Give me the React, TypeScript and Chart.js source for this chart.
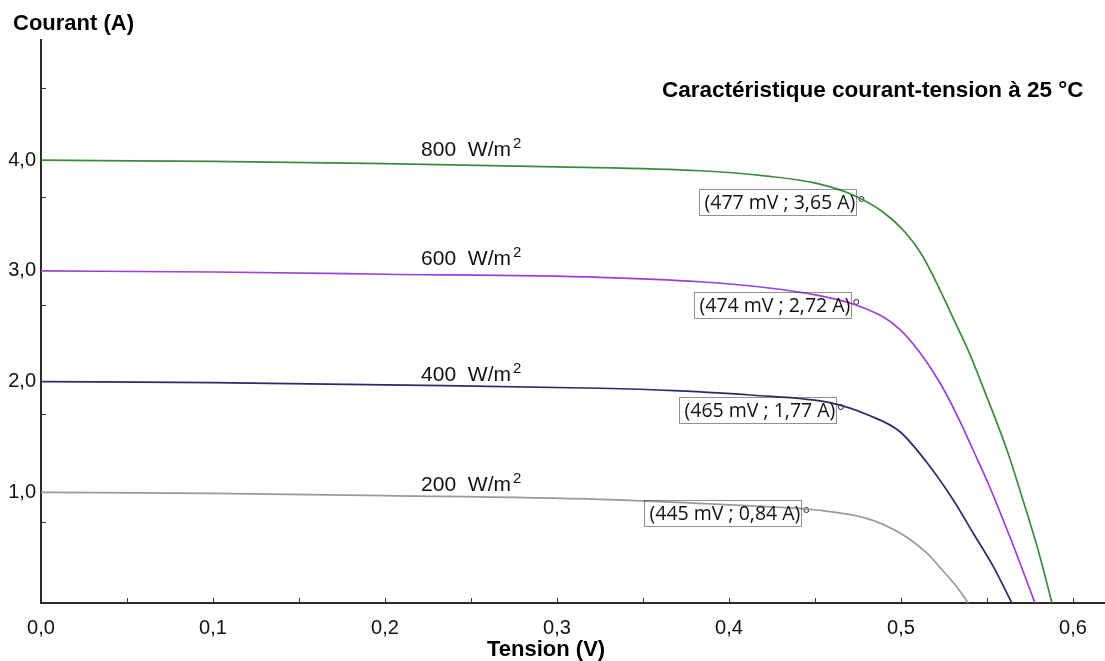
import React, { useEffect, useRef } from 'react';
import { Chart, registerables } from 'chart.js';

Chart.register(...registerables);

// ---- Data ----
const voltage800 = [0, 0.1, 0.2, 0.3, 0.383, 0.422, 0.451, 0.4721, 0.4895, 0.5023, 0.5122, 0.5227, 0.5314, 0.539, 0.5506, 0.5616, 0.5709, 0.5797, 0.5878];
const current800 = [4.0, 3.99, 3.97, 3.94, 3.905, 3.857, 3.791, 3.686, 3.532, 3.351, 3.144, 2.827, 2.538, 2.285, 1.834, 1.382, 0.93, 0.479, 0];

const voltage600 = [0, 0.1, 0.2, 0.325, 0.383, 0.422, 0.451, 0.4703, 0.4895, 0.4994, 0.5099, 0.5227, 0.5331, 0.5419, 0.5506, 0.5587, 0.5663, 0.5779];
const current600 = [3.0, 2.99, 2.97, 2.942, 2.902, 2.848, 2.782, 2.71, 2.585, 2.47, 2.285, 1.987, 1.68, 1.382, 1.084, 0.777, 0.479, 0];

const voltage400 = [0, 0.1, 0.2, 0.325, 0.368, 0.4122, 0.4605, 0.4801, 0.4994, 0.5169, 0.5304, 0.542, 0.5537, 0.5644];
const current400 = [2.0, 1.99, 1.97, 1.94, 1.918, 1.879, 1.804, 1.703, 1.547, 1.231, 0.93, 0.63, 0.328, 0];

const voltage200 = [0, 0.1, 0.2, 0.325, 0.383, 0.4219, 0.451, 0.4801, 0.4994, 0.5149, 0.5227, 0.5324, 0.5391];
const current200 = [1.0, 0.99, 0.97, 0.937, 0.9, 0.87, 0.84, 0.765, 0.632, 0.452, 0.32, 0.147, 0];

const irradianceLabels = ['800', '600', '400', '200'];
const labelVoltage = 0.221;
const labelCurrents = [4.04, 3.05, 2.01, 1.01];

const markerVoltages = [0.477, 0.474, 0.465, 0.445];
const markerCurrents = [3.65, 2.72, 1.77, 0.84];

const xMinorTicks = [0.05, 0.1, 0.15, 0.2, 0.25, 0.3, 0.35, 0.4, 0.45, 0.5, 0.55, 0.6];
const yMinorTicks = [0.73, 1.71, 2.69, 3.67, 4.65];

const seriesColors = ['#3b8b3b', '#9a40dc', '#2b2b68', '#9a9a9a'];

const chartTitle = 'Caractéristique courant-tension à 25 °C';
const yTitle = 'Courant (A)';
const xTitle = 'Tension (V)';

const toPoints = (xs: number[], ys: number[]) => xs.map((x, i) => ({ x, y: ys[i] }));
const fmtComma = (v: number, d: number) => v.toFixed(d).replace('.', ',');

const overlayPlugin = {
  id: 'overlay',
  afterDraw(chart: any) {
    const { ctx, chartArea, scales } = chart;
    const xs = scales.x;
    const ys = scales.y;
    ctx.save();

    // inward minor ticks
    ctx.strokeStyle = '#333';
    ctx.lineWidth = 1;
    ctx.beginPath();
    xMinorTicks.forEach((v) => {
      const px = Math.round(xs.getPixelForValue(v)) + 0.5;
      ctx.moveTo(px, chartArea.bottom);
      ctx.lineTo(px, chartArea.bottom - 5);
    });
    yMinorTicks.forEach((v) => {
      const py = Math.round(ys.getPixelForValue(v)) + 0.5;
      ctx.moveTo(chartArea.left, py);
      ctx.lineTo(chartArea.left + 5, py);
    });
    ctx.stroke();

    // irradiance labels
    ctx.fillStyle = '#111';
    ctx.textBaseline = 'alphabetic';
    ctx.textAlign = 'left';
    irradianceLabels.forEach((lab, i) => {
      const px = xs.getPixelForValue(labelVoltage);
      const py = ys.getPixelForValue(labelCurrents[i]);
      ctx.font = '21px "Liberation Sans", Arial, sans-serif';
      const main = lab + '  W/m';
      ctx.fillText(main, px, py);
      const w = ctx.measureText(main).width;
      ctx.font = '15px "Liberation Sans", Arial, sans-serif';
      ctx.fillText('2', px + w + 2, py - 8);
    });

    // annotation boxes
    markerVoltages.forEach((v, i) => {
      const mx = xs.getPixelForValue(v);
      const my = ys.getPixelForValue(markerCurrents[i]);
      const text = '(' + Math.round(v * 1000) + ' mV ; ' + fmtComma(markerCurrents[i], 2) + ' A)';
      ctx.font = '19.5px "Open Sans", "Noto Sans", sans-serif';
      const tw = ctx.measureText(text).width;
      const right = Math.round(mx - 5) + 0.5;
      const left = Math.round(right - tw - 7) + 0.5;
      const top = Math.round(my - 10) + 0.5;
      const h = 26;
      ctx.strokeStyle = '#222';
      ctx.lineWidth = 1;
      ctx.setLineDash([1, 1]);
      ctx.strokeRect(left, top, right - left, h);
      ctx.setLineDash([]);
      ctx.fillStyle = '#111';
      ctx.textBaseline = 'middle';
      ctx.fillText(text, left + 5, top + h / 2 + 1);
    });

    // titles
    ctx.fillStyle = '#000';
    ctx.textBaseline = 'alphabetic';
    ctx.textAlign = 'left';
    ctx.font = 'bold 22.5px "Liberation Sans", Arial, sans-serif';
    ctx.fillText(chartTitle, chartArea.left + 621, chartArea.top + 57);
    ctx.font = 'bold 22px "Liberation Sans", Arial, sans-serif';
    ctx.fillText(yTitle, chartArea.left - 28, chartArea.top - 10);
    ctx.fillText(xTitle, chartArea.left + 446, chartArea.bottom + 53);

    ctx.restore();
  },
};

const zeroPad = (s: any) => {
  s.paddingLeft = 0;
  s.paddingRight = 0;
  s.paddingTop = 0;
  s.paddingBottom = 0;
};

export default function App() {
  const canvasRef = useRef<HTMLCanvasElement | null>(null);

  useEffect(() => {
    if (!canvasRef.current) return;
    const seriesV = [voltage800, voltage600, voltage400, voltage200];
    const seriesI = [current800, current600, current400, current200];
    const datasets: any[] = seriesV.map((vs, i) => ({
      label: irradianceLabels[i] + ' W/m²',
      data: toPoints(vs, seriesI[i]),
      showLine: true,
      borderColor: seriesColors[i],
      backgroundColor: seriesColors[i],
      borderWidth: 1.7,
      pointRadius: 0,
      pointHoverRadius: 0,
      cubicInterpolationMode: 'monotone',
      fill: false,
    }));
    datasets.push({
      label: 'Points',
      data: toPoints(markerVoltages, markerCurrents),
      showLine: false,
      pointRadius: 2.5,
      pointHoverRadius: 2.5,
      pointBorderWidth: 1,
      pointBorderColor: '#222',
      pointBackgroundColor: 'rgba(0,0,0,0)',
    });

    const chart = new Chart(canvasRef.current, {
      type: 'scatter',
      data: { datasets },
      options: {
        animation: false,
        responsive: false,
        maintainAspectRatio: false,
        events: [],
        layout: { autoPadding: false, padding: { top: 40, left: 0, right: 0, bottom: 0 } },
        plugins: {
          legend: { display: false },
          tooltip: { enabled: false },
          title: { display: false },
        },
        scales: {
          x: {
            type: 'linear',
            min: 0,
            max: 0.6186,
            border: { display: true, color: '#2a2a2a', width: 2 },
            grid: { display: false, drawTicks: false },
            ticks: {
              stepSize: 0.1,
              includeBounds: false,
              autoSkip: false,
              maxRotation: 0,
              padding: 13,
              color: '#111',
              font: { family: '"Liberation Sans", Arial, sans-serif', size: 20 },
              callback: (v: any) => fmtComma(Number(v), 1),
            },
            afterFit: (s: any) => {
              s.height = 58;
              zeroPad(s);
            },
          },
          y: {
            type: 'linear',
            min: 0,
            max: 5.086,
            border: { display: true, color: '#2a2a2a', width: 2 },
            grid: { display: false, drawTicks: false },
            ticks: {
              stepSize: 1,
              includeBounds: false,
              autoSkip: false,
              padding: 5,
              color: '#111',
              font: { family: '"Liberation Sans", Arial, sans-serif', size: 20 },
              callback: (v: any) => {
                const n = Number(v);
                return n >= 1 && n <= 4 ? fmtComma(n, 1) : '';
              },
            },
            afterFit: (s: any) => {
              s.width = 41;
              zeroPad(s);
            },
          },
        },
      },
      plugins: [overlayPlugin],
    } as any);

    return () => chart.destroy();
  }, []);

  return (
    <div style={{ position: 'fixed', left: 0, top: 0, width: 1105, height: 661, background: '#fff' }}>
      <canvas ref={canvasRef} width={1105} height={661} style={{ display: 'block', width: 1105, height: 661 }} />
    </div>
  );
}
